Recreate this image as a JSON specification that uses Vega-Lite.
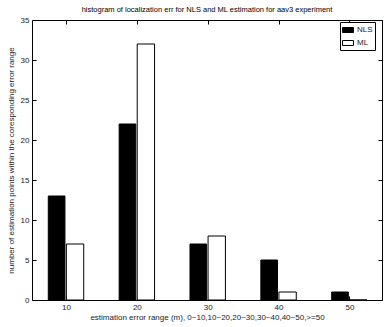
{
  "$schema": "https://vega.github.io/schema/vega-lite/v6.json",
  "autosize": {"type": "none"},
  "padding": {"left": 32, "top": 20, "right": 3, "bottom": 27},
  "width": 350,
  "height": 280,
  "background": "white",
  "config": {
    "font": "Liberation Sans",
    "view": {"stroke": "black", "strokeWidth": 1},
    "axis": {"grid": false, "domainColor": "black", "tickColor": "black", "labelColor": "#222", "titleColor": "#222", "labelFontSize": 8, "titleFontSize": 8, "titleFontWeight": "normal", "labelFont": "Liberation Sans", "titleFont": "Liberation Sans"}
  },
  "title": {"text": "histogram of localization err for NLS and ML estimation for aav3 experiment", "fontSize": 7.5, "fontWeight": "normal", "font": "Liberation Sans", "color": "black", "offset": 3, "anchor": "middle"},
  "data": {"values": [
    {"bin": 10, "series": "NLS", "count": 13},
    {"bin": 20, "series": "NLS", "count": 22},
    {"bin": 30, "series": "NLS", "count": 7},
    {"bin": 40, "series": "NLS", "count": 5},
    {"bin": 50, "series": "NLS", "count": 1},
    {"bin": 10, "series": "ML", "count": 7},
    {"bin": 20, "series": "ML", "count": 32},
    {"bin": 30, "series": "ML", "count": 8},
    {"bin": 40, "series": "ML", "count": 1},
    {"bin": 50, "series": "ML", "count": 0}
  ]},
  "transform": [
    {"calculate": "datum.series == 'NLS' ? datum.bin - 2.5 : datum.bin + 0.05", "as": "xs"},
    {"calculate": "datum.series == 'NLS' ? datum.bin - 0.15 : datum.bin + 2.5", "as": "xe"}
  ],
  "layer": [
    {
      "mark": {"type": "bar", "stroke": "black", "strokeWidth": 1},
      "encoding": {
        "x": {"field": "xs", "type": "quantitative", "scale": {"domain": [5.2, 54.6], "nice": false, "zero": false},
              "axis": {"values": [10, 20, 30, 40, 50], "tickSize": -4, "labelPadding": 7, "title": "estimation error range (m), 0~10,10~20,20~30,30~40,40~50,>=50", "titlePadding": 2, "domain": false}},
        "x2": {"field": "xe"},
        "y": {"field": "count", "type": "quantitative", "scale": {"domain": [0, 35], "nice": false},
              "axis": {"values": [0, 5, 10, 15, 20, 25, 30, 35], "tickSize": -4, "labelPadding": 7, "title": "number of estimation points within the coresponding error range", "titlePadding": 5, "domain": false}},
        "y2": {"datum": 0},
        "fill": {"field": "series", "type": "nominal", "scale": {"domain": ["NLS", "ML"], "range": ["black", "white"]},
                 "legend": {"title": null, "orient": "none", "legendX": 308, "legendY": 2, "strokeColor": "black", "fillColor": "white", "padding": 2, "labelFontSize": 8, "labelColor": "#222", "rowPadding": 2, "symbolType": "M-1,-0.45H1V0.45H-1Z", "symbolSize": 121, "symbolStrokeColor": "black", "symbolStrokeWidth": 1, "labelOffset": 3}}
      }
    },
    {
      "mark": {"type": "bar", "opacity": 0},
      "encoding": {
        "x": {"field": "xs", "type": "quantitative", "axis": {"orient": "top", "values": [10, 20, 30, 40, 50], "tickSize": -4, "labels": false, "title": null, "domain": false}},
        "x2": {"field": "xe"},
        "y": {"field": "count", "type": "quantitative", "axis": {"orient": "right", "values": [0, 5, 10, 15, 20, 25, 30, 35], "tickSize": -4, "labels": false, "title": null, "domain": false}},
        "y2": {"datum": 0}
      }
    }
  ],
  "resolve": {"axis": {"x": "independent", "y": "independent"}}
}
